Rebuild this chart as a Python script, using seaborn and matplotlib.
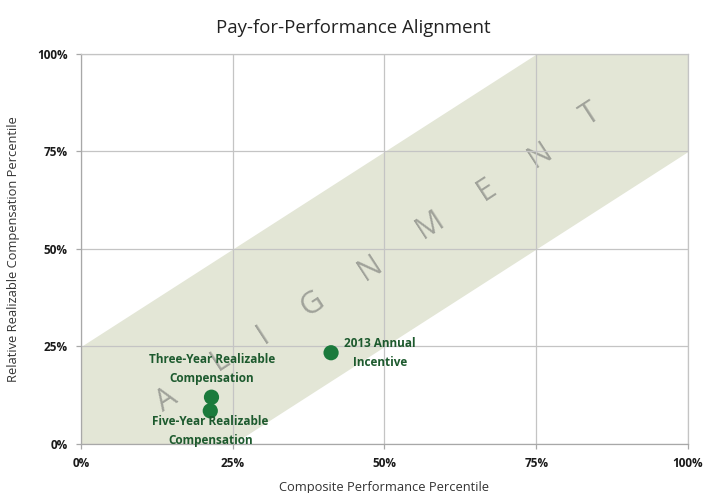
import matplotlib
matplotlib.use("Agg")
import matplotlib.pyplot as plt
import seaborn as sns
import pandas as pd
from matplotlib.ticker import PercentFormatter

# data
point_names = ["Three-Year Realizable\nCompensation",
               "Five-Year Realizable\nCompensation",
               "2013 Annual\nIncentive"]
perf_pct = [21.5, 21.3, 41.2]
comp_pct = [12.0, 8.5, 23.4]
label_x = [21.6, 21.3, 49.3]
label_y = [19.2, 3.3, 23.3]

# alignment band (+/- 25 points around the diagonal)
band_x = [0, 25, 75, 100]
band_lo = [0, 0, 50, 75]
band_hi = [25, 50, 100, 100]

word_letters = list("ALIGNMENT")
letter_x = [14.2, 22.9, 30.0, 38.1, 47.6, 57.5, 66.9, 75.6, 83.9]
letter_y = [11.3, 21.5, 27.9, 35.9, 45.1, 56.2, 65.1, 74.1, 84.4]

ticks = [0, 25, 50, 75, 100]

sns.set_theme(style="white")
plt.rcParams["font.family"] = ["Open Sans", "DejaVu Sans"]

fig = plt.figure(figsize=(7.06, 4.93), dpi=100)
ax = fig.add_axes([0.1147, 0.0994, 0.8598, 0.7911])

ax.fill_between(band_x, band_lo, band_hi, color="#e3e6d6", lw=0, zorder=1)

for ch, x, y in zip(word_letters, letter_x, letter_y):
    ax.text(x, y, ch, fontsize=22, color="#a0a29a", rotation=33,
            rotation_mode="anchor", ha="center", va="center", zorder=2)

df = pd.DataFrame({"perf": perf_pct, "comp": comp_pct, "name": point_names})
sns.scatterplot(data=df, x="perf", y="comp", ax=ax, s=120, color="#1b7a3c",
                edgecolor="none", zorder=4, legend=False)

for name, x, y in zip(point_names, label_x, label_y):
    ax.text(x, y, name, ha="center", va="center", fontsize=8.5,
            fontweight="bold", color="#1d5a2e", linespacing=1.6,
            zorder=5, clip_on=False)

ax.set_xlim(0, 100)
ax.set_ylim(0, 100)
ax.set_xticks(ticks)
ax.set_yticks(ticks)
ax.xaxis.set_major_formatter(PercentFormatter(decimals=0))
ax.yaxis.set_major_formatter(PercentFormatter(decimals=0))
ax.grid(True, color="#c4c4c4", lw=0.9, zorder=3)
ax.set_axisbelow(False)
for side in ["top", "right"]:
    ax.spines[side].set_color("#c4c4c4")
for side in ["left", "bottom"]:
    ax.spines[side].set_color("#a8a8a8")
for sp in ax.spines.values():
    sp.set_linewidth(0.9)
    sp.set_zorder(3)

ax.tick_params(axis="both", length=3.5, width=0.9, color="#a8a8a8",
               direction="out", labelsize=8.5, pad=6, bottom=True, left=True,
               labelcolor="#1a1a1a")
for lab in ax.get_xticklabels() + ax.get_yticklabels():
    lab.set_fontweight("bold")

ax.set_xlabel("Composite Performance Percentile", fontsize=9.3, color="#333333", labelpad=8)
ax.set_ylabel("Relative Realizable Compensation Percentile", fontsize=9.3, color="#333333", labelpad=12)
fig.suptitle("Pay-for-Performance Alignment", fontsize=13.4, color="#222222", y=0.962)

fig.savefig("out.png", dpi=100)
